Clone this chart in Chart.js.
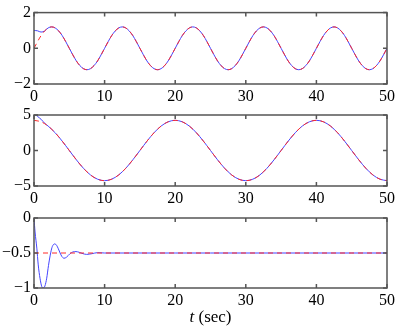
<!DOCTYPE html>
<html>
<head>
<meta charset="utf-8">
<script src="https://cdn.jsdelivr.net/npm/chart.js@4"></script>
<style>
  html, body { margin: 0; padding: 0; background: #fff; }
  #wrap { position: relative; width: 399px; height: 329px; }
  #wrap canvas { position: absolute; left: 0; top: 0; }
</style>
</head>
<body>
<div id="wrap">
  <canvas id="c1" width="399" height="329"></canvas>
  <canvas id="c2" width="399" height="329"></canvas>
  <canvas id="c3" width="399" height="329"></canvas>
</div>
<script>
// Panel 1: time (sec) and signals
const t1 = [
  0, 0.5, 1, 1.5, 2, 2.5, 3, 3.5, 4, 4.5, 5, 5.5, 6, 6.5, 7, 7.5, 8, 8.5, 9, 9.5,
  10, 10.5, 11, 11.5, 12, 12.5, 13, 13.5, 14, 14.5, 15, 15.5, 16, 16.5, 17, 17.5, 18, 18.5, 19, 19.5,
  20, 20.5, 21, 21.5, 22, 22.5, 23, 23.5, 24, 24.5, 25, 25.5, 26, 26.5, 27, 27.5, 28, 28.5, 29, 29.5,
  30, 30.5, 31, 31.5, 32, 32.5, 33, 33.5, 34, 34.5, 35, 35.5, 36, 36.5, 37, 37.5, 38, 38.5, 39, 39.5,
  40, 40.5, 41, 41.5, 42, 42.5, 43, 43.5, 44, 44.5, 45, 45.5, 46, 46.5, 47, 47.5, 48, 48.5, 49, 49.5,
  50
];
const ref1 = [
  0, 0.37, 0.71, 0.97, 1.14, 1.2, 1.14, 0.97, 0.71, 0.37, 0, -0.37, -0.71, -0.97, -1.14, -1.2, -1.14, -0.97, -0.71, -0.37,
  0, 0.37, 0.71, 0.97, 1.14, 1.2, 1.14, 0.97, 0.71, 0.37, 0, -0.37, -0.71, -0.97, -1.14, -1.2, -1.14, -0.97, -0.71, -0.37,
  0, 0.37, 0.71, 0.97, 1.14, 1.2, 1.14, 0.97, 0.71, 0.37, 0, -0.37, -0.71, -0.97, -1.14, -1.2, -1.14, -0.97, -0.71, -0.37,
  0, 0.37, 0.71, 0.97, 1.14, 1.2, 1.14, 0.97, 0.71, 0.37, 0, -0.37, -0.71, -0.97, -1.14, -1.2, -1.14, -0.97, -0.71, -0.37,
  0, 0.37, 0.71, 0.97, 1.14, 1.2, 1.14, 0.97, 0.71, 0.37, 0, -0.37, -0.71, -0.97, -1.14, -1.2, -1.14, -0.97, -0.71, -0.37,
  0
];
const est1 = [
  1.0, 0.98, 0.91, 0.97, 1.14, 1.2, 1.14, 0.97, 0.71, 0.37, 0, -0.37, -0.71, -0.97, -1.14, -1.2, -1.14, -0.97, -0.71, -0.37,
  0, 0.37, 0.71, 0.97, 1.14, 1.2, 1.14, 0.97, 0.71, 0.37, 0, -0.37, -0.71, -0.97, -1.14, -1.2, -1.14, -0.97, -0.71, -0.37,
  0, 0.37, 0.71, 0.97, 1.14, 1.2, 1.14, 0.97, 0.71, 0.37, 0, -0.37, -0.71, -0.97, -1.14, -1.2, -1.14, -0.97, -0.71, -0.37,
  0, 0.37, 0.71, 0.97, 1.14, 1.2, 1.14, 0.97, 0.71, 0.37, 0, -0.37, -0.71, -0.97, -1.14, -1.2, -1.14, -0.97, -0.71, -0.37,
  0, 0.37, 0.71, 0.97, 1.14, 1.2, 1.14, 0.97, 0.71, 0.37, 0, -0.37, -0.71, -0.97, -1.14, -1.2, -1.14, -0.97, -0.71, -0.37,
  0
];

// Panel 2
const t2 = [
  0, 1, 2, 3, 4, 5, 6, 7, 8, 9, 10, 11, 12, 13, 14, 15, 16, 17, 18, 19,
  20, 21, 22, 23, 24, 25, 26, 27, 28, 29, 30, 31, 32, 33, 34, 35, 36, 37, 38, 39,
  40, 41, 42, 43, 44, 45, 46, 47, 48, 49, 50
];
const ref2 = [
  4.25, 4.04, 3.44, 2.5, 1.31, 0, -1.31, -2.5, -3.44, -4.04, -4.25, -4.04, -3.44, -2.5, -1.31, 0, 1.31, 2.5, 3.44, 4.04,
  4.25, 4.04, 3.44, 2.5, 1.31, 0, -1.31, -2.5, -3.44, -4.04, -4.25, -4.04, -3.44, -2.5, -1.31, 0, 1.31, 2.5, 3.44, 4.04,
  4.25, 4.04, 3.44, 2.5, 1.31, 0, -1.31, -2.5, -3.44, -4.04, -4.25
];
const tEst2 = [
  0, 0.25, 0.5, 1, 1.5, 2, 3, 4, 5, 6, 7, 8, 9, 10, 11, 12, 13, 14, 15, 16, 17, 18, 19,
  20, 21, 22, 23, 24, 25, 26, 27, 28, 29, 30, 31, 32, 33, 34, 35, 36, 37, 38, 39,
  40, 41, 42, 43, 44, 45, 46, 47, 48, 49, 50
];
const est2 = [
  5.0, 4.98, 4.8, 4.4, 3.85, 3.44, 2.5, 1.31, 0, -1.31, -2.5, -3.44, -4.04, -4.25, -4.04, -3.44, -2.5, -1.31, 0, 1.31, 2.5, 3.44, 4.04,
  4.25, 4.04, 3.44, 2.5, 1.31, 0, -1.31, -2.5, -3.44, -4.04, -4.25, -4.04, -3.44, -2.5, -1.31, 0, 1.31, 2.5, 3.44, 4.04,
  4.25, 4.04, 3.44, 2.5, 1.31, 0, -1.31, -2.5, -3.44, -4.04, -4.25
];

// Panel 3
const t3ref = [0, 50];
const ref3 = [-0.5, -0.5];
const t3 = [
  0, 0.15, 0.4, 0.6, 0.85, 1.1, 1.3, 1.55, 1.8, 2.05, 2.3, 2.55, 2.75, 2.95, 3.2, 3.45, 3.7, 3.95, 4.25,
  4.6, 5.1, 5.5, 5.95, 6.4, 6.8, 7.45, 8.2, 9, 10, 12, 15, 20, 25, 30, 35, 40, 45, 50
];
const est3 = [
  0, -0.2, -0.43, -0.67, -0.86, -0.98, -1.0, -0.97, -0.86, -0.68, -0.53, -0.42, -0.38, -0.37, -0.39, -0.44, -0.5, -0.55, -0.575,
  -0.56, -0.51, -0.485, -0.48, -0.49, -0.505, -0.52, -0.51, -0.495, -0.5, -0.5, -0.5, -0.5, -0.5, -0.5, -0.5, -0.5, -0.5, -0.5
];

const xTicks = [0, 10, 20, 30, 40, 50];
const FONT = "'Liberation Serif', 'Times New Roman', serif";
const RED = '#ff2b2b';
const BLUE = '#4545ff';
const AXIS = '#555555';

Chart.defaults.font.family = FONT;
Chart.defaults.font.size = 16;
Chart.defaults.color = '#000';

function pts(xs, ys) {
  return xs.map((x, i) => ({ x: x, y: ys[i] }));
}

function minusLabel(v) {
  return v < 0 ? '\u2212' + Math.abs(v) : String(v);
}

// box around the plot area with inward ticks, like the original figure
const boxPlugin = {
  id: 'boxPlugin',
  afterDatasetsDraw(chart) {
    const { ctx, chartArea: a, scales } = chart;
    ctx.save();
    ctx.strokeStyle = AXIS;
    ctx.lineWidth = 1.5;
    ctx.beginPath();
    scales.x.ticks.forEach(function (tk) {
      const px = scales.x.getPixelForValue(tk.value);
      ctx.moveTo(px, a.bottom); ctx.lineTo(px, a.bottom - 4);
      ctx.moveTo(px, a.top); ctx.lineTo(px, a.top + 4);
    });
    scales.y.ticks.forEach(function (tk) {
      const py = scales.y.getPixelForValue(tk.value);
      ctx.moveTo(a.left, py); ctx.lineTo(a.left + 4, py);
      ctx.moveTo(a.right, py); ctx.lineTo(a.right - 4, py);
    });
    ctx.stroke();
    ctx.strokeRect(a.left, a.top, a.right - a.left, a.bottom - a.top);
    ctx.restore();
  }
};

// x label with italic t
const xLabelPlugin = {
  id: 'xLabelPlugin',
  afterDraw(chart, args, opts) {
    if (!opts.show) return;
    const { ctx, chartArea: a } = chart;
    ctx.save();
    ctx.fillStyle = '#000';
    ctx.textBaseline = 'middle';
    const italic = 'italic 17px ' + FONT;
    const normal = '17px ' + FONT;
    ctx.font = italic;
    const w1 = ctx.measureText('t').width;
    ctx.font = normal;
    const w2 = ctx.measureText(' (sec)').width;
    const x0 = (a.left + a.right) / 2 - (w1 + w2) / 2;
    ctx.font = italic;
    ctx.fillText('t', x0, 318);
    ctx.font = normal;
    ctx.fillText(' (sec)', x0 + w1, 318);
    ctx.restore();
  }
};

function makePanel(id, datasets, yMin, yMax, yStep, top, bottom, showLabel) {
  return new Chart(document.getElementById(id), {
    type: 'line',
    data: { datasets: datasets },
    options: {
      responsive: false,
      animation: false,
      devicePixelRatio: 1,
      layout: { padding: { left: 0, right: 12, top: top, bottom: 329 - bottom - 22 } },
      plugins: {
        legend: { display: false },
        tooltip: { enabled: false },
        xLabelPlugin: { show: showLabel }
      },
      elements: { point: { radius: 0 } },
      scales: {
        x: {
          type: 'linear',
          min: 0,
          max: 50,
          afterFit: function (s) { s.height = 22; },
          afterBuildTicks: function (s) { s.ticks = xTicks.map(v => ({ value: v })); },
          grid: { display: false, drawTicks: false },
          border: { display: false },
          ticks: { color: '#000', padding: 3, maxRotation: 0, font: { family: FONT, size: 16 } }
        },
        y: {
          min: yMin,
          max: yMax,
          afterFit: function (s) { s.width = 34; },
          grid: { display: false, drawTicks: false },
          border: { display: false },
          ticks: { stepSize: yStep, color: '#000', padding: 3, font: { family: FONT, size: 16 }, callback: minusLabel }
        }
      }
    },
    plugins: [boxPlugin, xLabelPlugin]
  });
}

function refSet(data) {
  return { data: data, borderColor: RED, borderWidth: 1, borderDash: [5, 4], cubicInterpolationMode: 'monotone', fill: false };
}
function estSet(data) {
  return { data: data, borderColor: BLUE, borderWidth: 1, cubicInterpolationMode: 'monotone', fill: false };
}

makePanel('c1', [refSet(pts(t1, ref1)), estSet(pts(t1, est1))], -2, 2, 2, 12, 84, false);
makePanel('c2', [refSet(pts(t2, ref2)), estSet(pts(tEst2, est2))], -5, 5, 5, 115, 186, false);
makePanel('c3', [refSet(pts(t3ref, ref3)), estSet(pts(t3, est3))], -1, 0, 0.5, 218, 288, true);
</script>
</body>
</html>
